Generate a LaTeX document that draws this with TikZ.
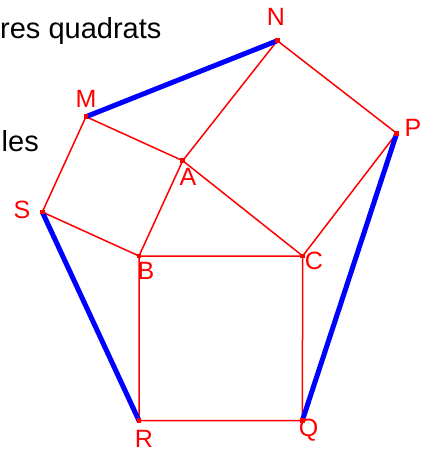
\documentclass[tikz,border=0pt]{standalone}
\usepackage{fontspec}
\setmainfont{Liberation Sans}
\begin{document}
\begin{tikzpicture}[
  x=1pt, y=-1pt,
  edge/.style={draw=red,line width=1.5pt},
  link/.style={draw=blue,line width=5pt},
  dot/.style={fill=red,inner sep=0pt,minimum size=4.5pt},
  tag/.style={text=red,font=\fontsize{25}{25}\selectfont,inner sep=0pt},
  caption/.style={font=\fontsize{29}{29}\selectfont,inner sep=0pt,anchor=base west},
]
\useasboundingbox (0,0) rectangle (433,452);

\node[caption] (title) at (0,38.3) {res quadrats};
\node[caption] (rest) at (1.5,151) {les};

\foreach \id/\x/\y in {N/277.3/40.7, M/86/116.7, P/396.7/133.3, A/182.7/160.7,
  S/42.3/212, B/139/256, C/302.7/256, R/139/420.7, Q/302.3/420.7}
  \coordinate (\id) at (\x,\y);

\draw[edge] (B) -- (C) -- (Q) -- (R) -- cycle;
\draw[edge] (A) -- (B) -- (S) -- (M) -- cycle;
\draw[edge] (A) -- (C) -- (P) -- (N) -- cycle;

\foreach \a/\b in {M/N,S/R,P/Q}
  \draw[link] (\a) -- (\b);

\foreach \id in {N,M,P,A,S,B,C,R,Q}
  \node[dot] (\id-dot) at (\id) {};

\foreach \id/\x/\y in {N/276/16.5, M/86/99, P/413/127.5, A/188/177,
  S/22/210, B/146/271, C/314/261, R/144/438.5, Q/308.5/430.5}
  \node[tag] (\id-tag) at (\x,\y) {\id};
\end{tikzpicture}
\end{document}
